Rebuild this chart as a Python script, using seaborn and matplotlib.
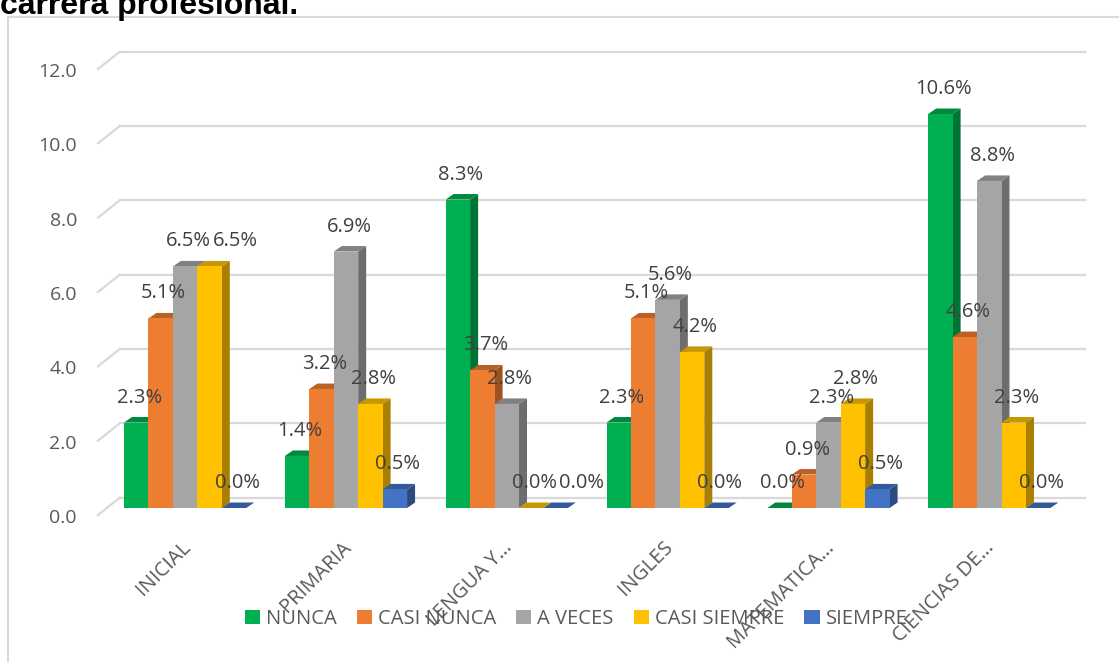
import matplotlib
matplotlib.use('Agg')
import matplotlib.pyplot as plt
import matplotlib.transforms as mtransforms
from matplotlib.patches import Polygon, Patch, Rectangle
import numpy as np
import pandas as pd
import seaborn as sns

# ── DATA ─────────────────────────────────────────────
categories = ['INICIAL', 'PRIMARIA', 'LENGUA Y…', 'INGLES', 'MATEMATICA…', 'CIENCIAS DE…']
series = ['NUNCA', 'CASI NUNCA', 'A VECES', 'CASI SIEMPRE', 'SIEMPRE']
nunca = [2.3, 1.4, 8.3, 2.3, 0.0, 10.6]
casi_nunca = [5.1, 3.2, 3.7, 5.1, 0.9, 4.6]
a_veces = [6.5, 6.9, 2.8, 5.6, 2.3, 8.8]
casi_siempre = [6.5, 2.8, 0.0, 4.2, 2.8, 2.3]
siempre = [0.0, 0.5, 0.0, 0.0, 0.5, 0.0]
yticks = [0, 2, 4, 6, 8, 10, 12]
colors = ['#00B050', '#ED7D31', '#A5A5A5', '#FFC000', '#4472C4']

rows = []
for s, vals in zip(series, [nunca, casi_nunca, a_veces, casi_siempre, siempre]):
    for c, v in zip(categories, vals):
        rows.append({'cat': c, 'serie': s, 'valor': v})
df = pd.DataFrame(rows)

# ── FIGURE ───────────────────────────────────────────
W, H = 1119, 662
fig = plt.figure(figsize=(W / 100, H / 100), dpi=100)
ax_l, ax_b, ax_w, ax_h = 104.7, 508, 965, 446   # pixels (front plane)
ax = fig.add_axes([ax_l / W, (H - ax_b) / H, ax_w / W, ax_h / H])

sns.barplot(data=df, x='cat', y='valor', hue='serie', order=categories,
            hue_order=series, palette=colors, saturation=1, width=0.76,
            ax=ax, legend=False, linewidth=0)
ax.set_xlim(-0.5, 5.5)
ax.set_ylim(0, 12)
for sp in ax.spines.values():
    sp.set_visible(False)
ax.set_xlabel('')
ax.set_ylabel('')

pxx = ax_w / 6.0    # px per category
pxy = ax_h / 12.0   # px per unit

# back wall gridlines + diagonal stubs
bx, by = 15.3, 10.5
for v in yticks:
    ax.plot([bx / ax_w, 1 + bx / ax_w], [v + by / pxy] * 2, color='#D9D9D9',
            lw=1.6, transform=ax.get_yaxis_transform(), clip_on=False, zorder=0.5)
    ax.plot([bx / ax_w, -6.7 / ax_w], [v + by / pxy, v - 7 / pxy], color='#D9D9D9',
            lw=1.6, transform=ax.get_yaxis_transform(), clip_on=False, zorder=0.5)

# 3D faces
def shade(c, f):
    r, g, b = matplotlib.colors.to_rgb(c)
    return (r * f, g * f, b * f)

dx, dy = 8 / pxx, 5.5 / pxy
label_w = 47 / pxx   # approx label width in data units
last = {}            # last label per category: (x_center, height)
for k, cont in enumerate(ax.containers):
    for i, bar in enumerate(cont):
        x0 = bar.get_x()
        x1 = x0 + bar.get_width()
        h = bar.get_height()
        bar.set_zorder(3 + 2 * k)
        side = Polygon([(x1, 0), (x1 + dx, dy), (x1 + dx, h + dy), (x1, h)],
                       closed=True, fc=shade(colors[k], 0.66), ec='none',
                       zorder=2 + 2 * k, clip_on=False)
        top = Polygon([(x0, h), (x1, h), (x1 + dx, h + dy), (x0 + dx, h + dy)],
                      closed=True, fc=shade(colors[k], 0.78), ec='none',
                      zorder=2 + 2 * k, clip_on=False)
        ax.add_patch(side)
        ax.add_patch(top)
        xc = x0 + (x1 - x0) / 2 + 3 / pxx
        # push label right when it would sit on its neighbour at the same height
        if i in last and abs(last[i][1] - h) < 0.3 and xc - last[i][0] < label_w:
            xc = last[i][0] + label_w
        last[i] = (xc, h)
        ax.text(xc, h + 25 / pxy, f'{h:.1f}%',
                ha='center', va='center', fontsize=14.5, color='#404040',
                family='Open Sans', zorder=20)

# y tick labels
ax.set_yticks(yticks)
ax.set_yticklabels([f'{v:.1f}' for v in yticks], fontsize=14, color='#595959',
                   family='Open Sans')
ax.tick_params(axis='y', length=0, pad=20)
off = mtransforms.ScaledTranslation(0, -8 / 100, fig.dpi_scale_trans)
for lab in ax.get_yticklabels():
    lab.set_transform(lab.get_transform() + off)

# x tick labels
ax.set_xticks(range(len(categories)))
ax.set_xticklabels(categories, rotation=45, ha='right', rotation_mode='anchor',
                   fontsize=14.5, color='#595959', family='Open Sans')
ax.tick_params(axis='x', length=0, pad=21)
offx = mtransforms.ScaledTranslation(-5 / 100, 0, fig.dpi_scale_trans)
for lab in ax.get_xticklabels():
    lab.set_transform(lab.get_transform() + offx)

# legend
handles = [Patch(fc=c, ec='none') for c in colors]
fig.legend(handles, series, loc='center', bbox_to_anchor=(576 / W, 1 - 619 / H),
           ncol=5, frameon=False, handlelength=0.75, handleheight=0.75,
           handletextpad=0.3, columnspacing=1.0,
           prop={'family': 'Open Sans', 'size': 14.5}, labelcolor='#595959')

# chart border and cropped title
fig.patches.append(Rectangle((8 / W, -0.1), 1.2, 1 - 17 / H + 0.1, transform=fig.transFigure,
                             fill=False, ec='#D9D9D9', lw=1.5))
fig.text(0 / W, 1 - 14 / H, 'carrera profesional.', fontsize=23, fontweight='bold',
         family='Liberation Sans', color='black', va='baseline', ha='left')

plt.savefig('out.png', dpi=100)
plt.close()
